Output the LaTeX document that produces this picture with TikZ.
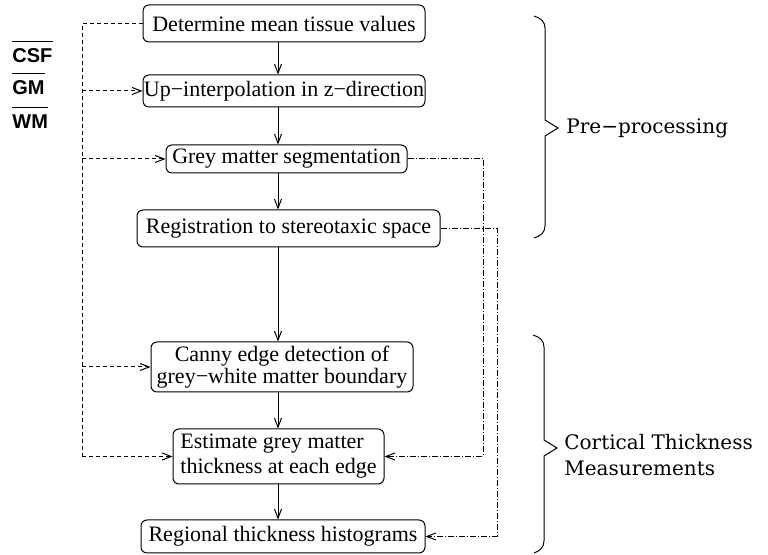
\documentclass[tikz,border=0pt]{standalone}
\usepackage{fontspec}
\setmainfont{Liberation Serif}
\newfontfamily\bracefont{DejaVu Serif}
\newfontfamily\labfont{Liberation Sans}
\usetikzlibrary{arrows.meta}
\begin{document}
\begin{tikzpicture}[x=0.5pt,y=-0.5pt,
  box/.style={draw, rounded corners=3pt, line width=0.5pt, inner sep=0pt, align=center,
              font=\fontsize{11}{13}\selectfont},
  arr/.style={-{Straight Barb[length=4.5pt,width=3.5pt]}},
  dsh/.style={line width=0.5pt, dash pattern=on 2pt off 1.5pt},
  dd/.style={line width=0.5pt, dash pattern=on 3pt off 1pt on 0.5pt off 1pt},
  lab/.style={font=\labfont\bfseries\fontsize{10}{12}\selectfont, inner sep=0pt, text height=7.2pt, text depth=0pt, anchor=west},
  brace/.style={line width=0.5pt},
  blab/.style={font=\bracefont\fontsize{10}{13}\selectfont, inner sep=0pt, anchor=west, align=left}
]
\useasboundingbox (0,0) rectangle (768,555);

% boxes
\node[box, minimum width=141pt, minimum height=18.5pt] (b1) at (284,23.5) {Determine mean tissue values};
\node[box, minimum width=141pt, minimum height=16pt] (b2) at (284,91) {Up−interpolation in z−direction};
\node[box, minimum width=120.5pt, minimum height=14pt] (b3) at (286.5,159) {Grey matter segmentation};
\node[box, minimum width=151.5pt, minimum height=18.5pt] (b4) at (288.5,228.5) {Registration to stereotaxic space};
\node[box, minimum width=131pt, minimum height=25pt, font=\fontsize{11}{9.5}\selectfont] (b5) at (282,367) {Canny edge detection of\\grey−white matter boundary};
\node[box, minimum width=105.5pt, minimum height=27.5pt, align=left, font=\fontsize{11}{12.5}\selectfont] (b6) at (278.5,456.5) {Estimate grey matter\\thickness at each edge};
\node[box, minimum width=142pt, minimum height=16.5pt] (b7) at (283,536.5) {Regional thickness histograms};

% helper coordinates
\coordinate (ax) at (278,0);
\coordinate (lx) at (82,0);
\coordinate (rx1) at (483,0);
\coordinate (rx2) at (497,0);

% main flow
\draw[arr, line width=0.5pt] (b1.south -| ax) -- (b2.north -| ax);
\draw[arr, line width=0.5pt] (b2.south -| ax) -- (b3.north -| ax);
\draw[arr, line width=0.5pt] (b3.south -| ax) -- (b4.north -| ax);
\draw[arr, line width=0.5pt] (b4.south -| ax) -- (b5.north -| ax);
\draw[arr, line width=0.5pt] (b5.south -| ax) -- (b6.north -| ax);
\draw[arr, line width=0.5pt] (b6.south -| ax) -- (b7.north -| ax);

% left dashed feed
\draw[dsh] (b1.west) -| (lx |- b6.west);
\draw[dsh, arr] (lx |- b2.west) -- (b2.west);
\draw[dsh, arr] (lx |- b3.west) -- (b3.west);
\draw[dsh, arr] (lx |- b5.west) -- (b5.west);
\draw[dsh, arr] (lx |- b6.west) -- (b6.west);

% right dash-dot feeds
\draw[dd, arr] (b3.east) -| (rx1 |- b6.east) -- (b6.east);
\draw[dd, arr] (b4.east) -| (rx2 |- b7.east) -- (b7.east);

% legend
\node[lab] (csf) at (12,55.5) {CSF};
\node[lab] (gm) at (12,87) {GM};
\node[lab] (wm) at (12,121) {WM};
\draw[line width=0.5pt] ([yshift=3pt]csf.north west) -- ([yshift=3pt]csf.north east);
\draw[line width=0.5pt] ([yshift=3pt]gm.north west) -- ([yshift=3pt]gm.north east);
\draw[line width=0.5pt] ([yshift=3pt]wm.north west) -- ([yshift=3pt]wm.north east);

% braces
\draw[brace] (534,16) .. controls (541,18) and (545,22) .. (545,28) -- (545,120) -- (558,128) -- (545,136) -- (545,226) .. controls (545,232) and (541,236) .. (534,238);
\draw[brace] (533,335) .. controls (540,337) and (544,341) .. (544,347) -- (544,440) -- (557,448) -- (544,456) -- (544,541) .. controls (544,547) and (540,551) .. (534,553);

\node[blab] (pre) at (566,128) {Pre−processing};
\node[blab] (cort) at (564,455) {Cortical Thickness\\Measurements};
\end{tikzpicture}
\end{document}
